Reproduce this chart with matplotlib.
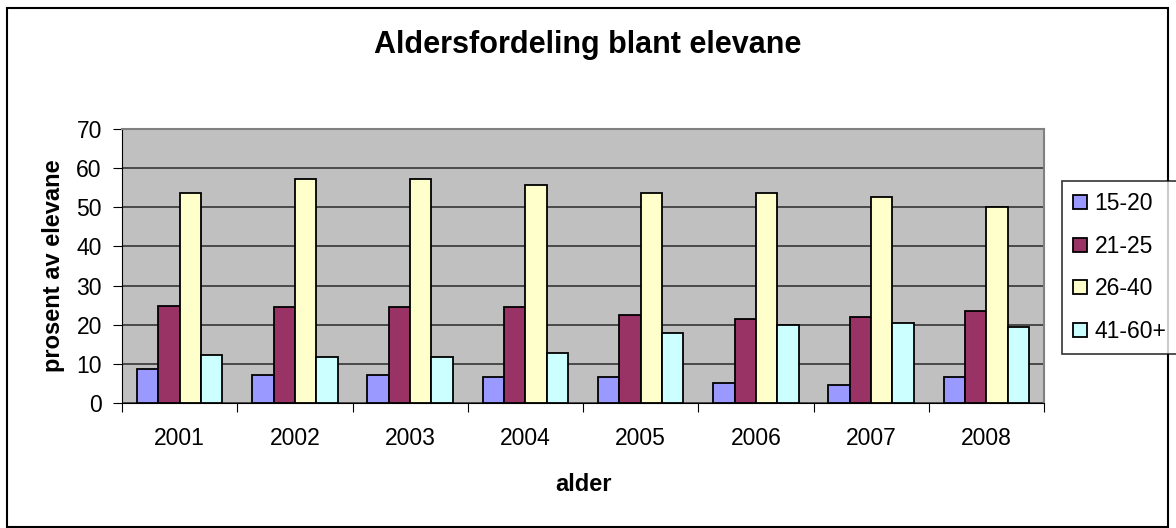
import matplotlib
matplotlib.use("Agg")
import matplotlib.pyplot as plt
import numpy as np
from matplotlib.patches import Rectangle

plt.rcParams['font.family'] = ['Liberation Sans', 'DejaVu Sans']

aar = ['2001', '2002', '2003', '2004', '2005', '2006', '2007', '2008']
grupper = ['15-20', '21-25', '26-40', '41-60+']
v_15_20 = [8.7, 7.1, 7.1, 6.6, 6.6, 5.1, 4.6, 6.6]
v_21_25 = [24.9, 24.5, 24.5, 24.5, 22.5, 21.4, 21.9, 23.5]
v_26_40 = [53.6, 57.2, 57.2, 55.6, 53.6, 53.6, 52.6, 50.0]
v_41_60 = [12.2, 11.7, 11.7, 12.8, 17.9, 19.9, 20.4, 19.3]
farger = ['#9999FF', '#993366', '#FFFFCC', '#CCFFFF']

fig = plt.figure(figsize=(11.76, 5.28), dpi=100)
ax = fig.add_axes([122/1176, 1 - 403/528, 922/1176, 274/528])
ax.set_facecolor('#C0C0C0')

x = np.arange(len(aar)) + 0.5
bw = 0.185
serier = [v_15_20, v_21_25, v_26_40, v_41_60]
for i, (verdier, farge, navn) in enumerate(zip(serier, farger, grupper)):
    ax.bar(x + (i - 1.5) * bw, verdier, bw, color=farge, edgecolor='black',
           linewidth=1.3, label=navn, zorder=3)

ax.set_xlim(0, 8)
ax.set_ylim(0, 70)
ax.set_yticks(np.arange(0, 71, 10))
ax.yaxis.grid(True, color='#404040', linewidth=1.3, zorder=1)
ax.set_xticks(np.arange(0, 9))
ax.set_xticklabels([])
ax.set_xticks(x, minor=True)
ax.set_xticklabels(aar, minor=True)
ax.tick_params(axis='x', which='minor', length=0, pad=17, labelsize=16.5)
ax.tick_params(axis='x', which='major', length=6.5, direction='out', color='black')
ax.tick_params(axis='y', length=6.5, direction='out', labelsize=16.5, pad=8)
for s in ['top', 'right']:
    ax.spines[s].set_color('#808080')
    ax.spines[s].set_linewidth(1.5)
ax.spines['left'].set_color('black')
ax.spines['bottom'].set_color('black')

ax.set_ylabel('prosent av elevane', fontsize=17, fontweight='bold', labelpad=8)
ax.set_xlabel('alder', fontsize=17, fontweight='bold', labelpad=17)
fig.text(0.5, 1 - 45/528, 'Aldersfordeling blant elevane', ha='center', va='center',
         fontsize=22, fontweight='bold')

leg = fig.legend(loc='upper left', bbox_to_anchor=(1062/1176, 1 - 181/528),
                 fontsize=16.5, handlelength=0.57, handleheight=0.57, handletextpad=0.35,
                 frameon=True, fancybox=False, edgecolor='black', labelspacing=0.85,
                 borderpad=0.5, borderaxespad=0)
leg.get_frame().set_linewidth(1.2)

fig.patches.append(Rectangle((7/1176, 1/528), 1161/1176, 519/528, transform=fig.transFigure,
                             fill=False, edgecolor='black', linewidth=1.5))

fig.savefig('out.png', dpi=100)
